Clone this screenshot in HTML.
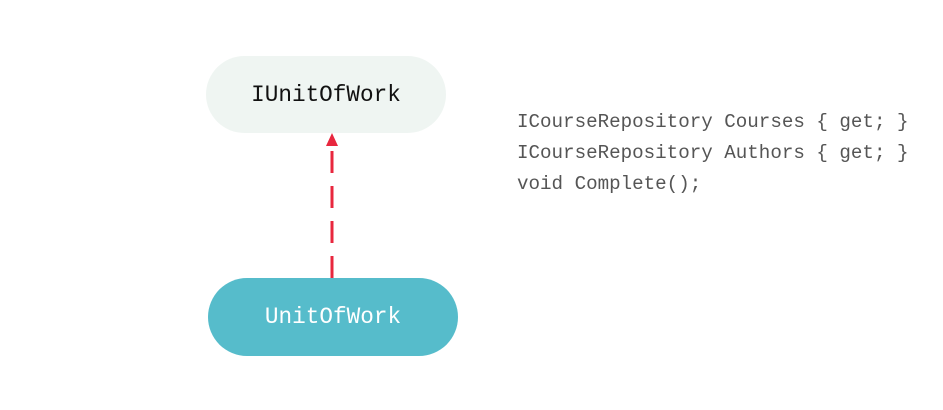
<!DOCTYPE html>
<html><head><style>
html,body{margin:0;padding:0;background:#fff;}
body{width:943px;height:410px;position:relative;overflow:hidden;}
.n{position:absolute;border-radius:39px;display:flex;align-items:center;justify-content:center;font-family:"Liberation Mono",monospace;font-size:22.7px;}
.code{position:absolute;left:517px;top:107px;font-family:"Liberation Mono",monospace;font-size:19.2px;line-height:31px;color:#555;white-space:pre;}
</style></head><body>
<div class="n" style="left:206px;top:56px;width:240px;height:77px;background:#eff5f2;color:#111;">IUnitOfWork</div>
<div class="n" style="left:208px;top:278px;width:250px;height:78px;background:#56bccb;color:#fff;">UnitOfWork</div>
<svg width="943" height="410" style="position:absolute;left:0;top:0">
<polygon points="332,133 326,146 338,146" fill="#e8273e"/>
<line x1="332" y1="151" x2="332" y2="278" stroke="#e8273e" stroke-width="3" stroke-dasharray="22,13"/>
</svg>
<div class="code">ICourseRepository Courses { get; }
ICourseRepository Authors { get; }
void Complete();</div>
</body></html>
